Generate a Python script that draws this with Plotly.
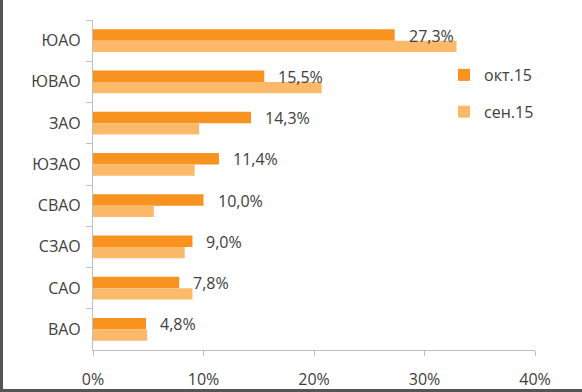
import plotly.graph_objects as go

categories = ["ЮАО", "ЮВАО", "ЗАО", "ЮЗАО", "СВАО", "СЗАО", "САО", "ВАО"]
oct15 = [27.3, 15.5, 14.3, 11.4, 10.0, 9.0, 7.8, 4.8]
sep15 = [32.9, 20.7, 9.6, 9.2, 5.5, 8.3, 9.0, 4.9]
x_ticks = [0, 10, 20, 30, 40]
x_tick_labels = ["0%", "10%", "20%", "30%", "40%"]

W, H = 582, 392
L, R, T, B = 93, 47, 20, 42
pw, ph = W - L - R, H - T - B

font = "Open Sans, DejaVu Sans, sans-serif"
txtc = "#404040"
fs = 16

fig = go.Figure()
fig.add_trace(go.Bar(
    y=categories, x=oct15, orientation="h", name="окт.15", legendgroup="a",
    marker=dict(color="#F7931E", line=dict(width=0)),
))
fig.add_trace(go.Bar(
    y=categories, x=sep15, orientation="h", name="сен.15", legendgroup="b",
    marker=dict(color="#FDB96A", line=dict(width=0)),
))

annotations = [
    dict(x=v, y=c, xref="x", yref="y", text=f"{v:.1f}%".replace(".", ","),
         showarrow=False, xanchor="left", yanchor="middle", xshift=12, yshift=5,
         font=dict(size=fs, color=txtc, family=font))
    for c, v in zip(categories, oct15)
]

fig.update_layout(
    width=W, height=H,
    margin=dict(l=L, r=R, t=T, b=B),
    paper_bgcolor="white", plot_bgcolor="white",
    barmode="group", bargap=0.45, bargroupgap=0,
    font=dict(family=font, size=fs, color=txtc),
    showlegend=True,
    legend=dict(x=(444 - L) / pw, y=(H - B - 58) / ph, xanchor="left", yanchor="top",
                bgcolor="rgba(0,0,0,0)", font=dict(size=fs, color=txtc),
                traceorder="grouped", tracegroupgap=13, itemwidth=30),
    annotations=annotations,
    xaxis=dict(range=[0, 40], tickvals=x_ticks, ticktext=x_tick_labels,
               showgrid=False, zeroline=False, showline=True, linecolor="#BFBFBF",
               linewidth=1, ticks="outside", ticklen=5, tickcolor="#BFBFBF",
               ticklabelstandoff=10, automargin=False,
               tickfont=dict(size=fs, color=txtc)),
    yaxis=dict(autorange="reversed", showgrid=False, showline=True,
               linecolor="#BFBFBF", linewidth=1, ticks="outside", ticklen=6,
               tickcolor="#BFBFBF", tickson="boundaries", ticklabelstandoff=8,
               automargin=False, tickfont=dict(size=fs, color=txtc)),
    shapes=[
        dict(type="line", xref="paper", yref="paper",
             x0=(1.5 - L) / pw, x1=(1.5 - L) / pw, y0=(H - B) / ph, y1=(H - B - H) / ph,
             line=dict(color="#555555", width=3)),
        dict(type="line", xref="paper", yref="paper",
             x0=-L / pw, x1=(W - L) / pw, y0=(H - B - 390.5) / ph, y1=(H - B - 390.5) / ph,
             line=dict(color="#555555", width=3)),
    ],
)

fig.write_html("out.html", config={"displayModeBar": False},
               post_script="document.body.style.margin='0';document.body.style.overflow='hidden';")
